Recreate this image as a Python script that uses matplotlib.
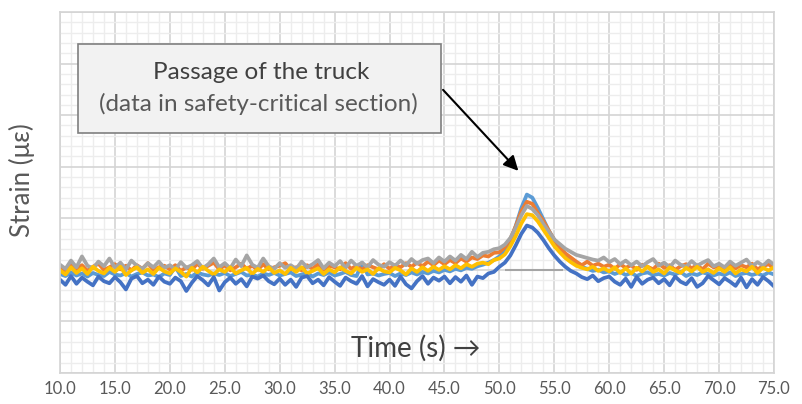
import numpy as np
import matplotlib
matplotlib.use('Agg')
import matplotlib.pyplot as plt
from matplotlib.ticker import MultipleLocator
from matplotlib.patches import Rectangle

plt.rcParams['font.family'] = ['Lato', 'DejaVu Sans']

# time axis (s), sampled every 0.5 s from 10.0 to 75.0
t = np.arange(10.0, 75.01, 0.5)

light_blue = [19.2, 18.8, 19.5, 18.9, 19.3, 18.7, 19.4, 19.0, 18.8, 19.6, 19.1, 18.9, 19.4, 18.7, 19.2, 19.5, 18.9, 19.1, 18.6, 19.3,
              19.0, 20.6, 18.8, 19.2, 18.7, 19.5, 19.1, 18.9, 19.3, 19.0, 19.4, 18.8, 19.2, 19.6, 18.9, 19.1, 18.7, 19.3, 19.0, 19.4,
              18.9, 19.2, 19.5, 18.8, 19.1, 19.4, 18.7, 19.3, 19.0, 19.5, 18.9, 19.2, 19.6, 19.0, 18.8, 21.4, 19.1, 19.3, 18.9, 19.2,
              19.4, 18.8, 19.3, 19.0, 19.5, 19.1, 19.6, 19.3, 19.8, 19.5, 20.0, 19.7, 20.2, 19.9, 20.4, 20.2, 20.7, 21.0, 21.4, 21.9,
              22.6, 23.6, 25.6, 28.6, 32.0, 34.6, 34.0, 32.0, 29.8, 27.6, 25.8, 24.2, 23.0, 22.0, 21.2, 20.6, 20.2, 19.8, 20.0, 19.5,
              19.7, 19.2, 19.6, 19.0, 19.4, 18.8, 19.3, 19.5, 19.0, 19.2, 18.9, 19.4, 19.1, 19.6, 18.8, 19.3, 19.0, 19.5, 19.2, 18.9,
              19.3, 19.0, 19.5, 18.8, 19.2, 19.4, 19.0, 19.3, 18.9, 19.5, 19.1]

orange = [20.5, 19.9, 21.0, 20.1, 20.9, 19.8, 20.6, 21.2, 20.0, 20.5, 21.1, 20.1, 20.8, 19.9, 20.9, 20.2, 21.3, 20.0, 20.5, 20.8,
          20.1, 20.9, 19.8, 20.5, 20.0, 21.2, 20.2, 20.8, 21.4, 20.1, 20.9, 19.9, 20.5, 21.2, 20.2, 20.8, 20.0, 21.1, 20.1, 20.5,
          20.8, 21.3, 20.1, 20.5, 19.9, 20.9, 20.2, 21.1, 20.0, 20.8, 20.5, 20.1, 21.3, 20.2, 20.8, 20.0, 20.9, 20.5, 20.1, 21.1,
          20.2, 20.9, 20.5, 21.3, 20.6, 21.4, 20.7, 21.6, 20.9, 21.8, 21.1, 21.9, 21.3, 22.2, 21.6, 22.4, 22.1, 22.8, 22.6, 23.3,
          23.4, 24.4, 26.0, 28.5, 31.4, 33.2, 32.8, 31.0, 29.5, 27.6, 25.8, 24.4, 23.2, 22.4, 21.6, 20.9, 21.6, 20.8, 21.2, 20.6,
          21.0, 20.2, 21.1, 20.4, 20.9, 20.0, 21.0, 20.6, 20.1, 21.2, 20.4, 20.9, 20.0, 20.7, 21.1, 20.3, 20.9, 20.1, 21.2, 20.5,
          20.7, 20.0, 21.0, 20.3, 20.9, 20.5, 21.2, 20.1, 20.7, 21.1, 20.3]

grey = [21.0, 20.2, 21.8, 20.5, 22.6, 20.8, 20.3, 21.6, 20.7, 22.2, 20.4, 21.4, 20.1, 21.8, 20.8, 20.2, 21.3, 20.5, 21.6, 20.4,
        20.9, 20.1, 21.5, 20.4, 20.9, 21.7, 20.3, 21.1, 22.2, 20.5, 21.3, 20.3, 22.0, 20.7, 22.8, 21.0, 20.4, 22.2, 20.7, 20.2,
        21.3, 20.4, 20.9, 20.2, 21.6, 20.5, 21.1, 21.9, 20.3, 21.4, 20.7, 21.7, 20.4, 21.8, 20.8, 21.4, 20.5, 21.9, 21.0, 20.6,
        21.5, 20.8, 21.8, 20.9, 22.1, 21.2, 21.9, 22.2, 21.3, 22.4, 21.6, 22.6, 21.8, 22.9, 22.1, 23.5, 22.5, 23.3, 23.5, 24.0,
        24.2, 24.9, 26.2, 28.2, 30.6, 32.4, 31.8, 30.6, 28.9, 27.4, 25.9, 25.0, 24.1, 23.5, 22.9, 22.6, 22.3, 22.0, 21.8, 22.4,
        21.5, 22.1, 21.1, 21.8, 20.9, 21.6, 20.7, 21.5, 22.1, 20.8, 21.4, 20.5, 21.8, 21.0, 20.6, 21.7, 20.8, 21.4, 21.9, 20.7,
        21.2, 20.5, 21.6, 20.8, 21.4, 22.0, 20.7, 21.5, 20.8, 21.8, 21.0]

yellow = [19.9, 19.1, 20.5, 19.4, 20.3, 19.2, 20.6, 19.8, 19.3, 20.4, 19.6, 20.6, 19.0, 19.9, 20.5, 19.4, 20.1, 19.2, 20.4, 19.7,
          19.3, 20.3, 19.6, 18.7, 20.4, 19.5, 20.6, 19.8, 19.1, 20.1, 19.6, 20.5, 19.3, 19.9, 20.4, 19.2, 20.2, 19.6, 20.5, 19.4,
          19.9, 19.2, 20.4, 19.6, 20.5, 19.3, 19.8, 20.3, 19.2, 20.1, 19.5, 20.5, 19.8, 19.3, 20.4, 19.6, 20.1, 19.2, 20.3, 19.7,
          19.5, 20.4, 19.9, 19.1, 20.3, 19.6, 20.5, 19.8, 20.6, 20.0, 20.7, 20.1, 20.9, 20.3, 21.1, 20.6, 21.2, 21.4, 21.1, 21.9,
          22.2, 23.0, 24.6, 26.6, 29.0, 30.8, 30.6, 29.4, 27.8, 26.2, 24.6, 23.4, 22.3, 21.5, 20.8, 20.4, 20.1, 20.6, 19.8, 20.3,
          19.7, 20.5, 19.4, 20.3, 19.3, 20.4, 19.7, 20.6, 19.6, 20.1, 19.3, 20.5, 19.9, 19.4, 20.4, 19.7, 20.6, 19.6, 20.1, 19.4,
          20.3, 19.6, 20.5, 19.3, 20.1, 19.7, 20.6, 19.4, 20.4, 19.9, 20.5]

blue = [18.1, 17.1, 18.8, 17.3, 18.5, 17.7, 17.0, 18.7, 17.8, 17.4, 18.6, 17.6, 16.2, 18.3, 18.8, 17.4, 18.1, 17.1, 18.7, 17.7,
        17.3, 18.5, 17.8, 15.9, 17.5, 18.8, 18.0, 17.0, 18.6, 16.0, 17.6, 18.5, 17.3, 18.2, 16.8, 18.7, 18.3, 18.9, 17.8, 17.2,
        18.3, 17.1, 18.1, 16.7, 18.5, 18.8, 17.4, 18.1, 17.0, 18.6, 17.7, 16.9, 18.5, 17.8, 17.3, 18.8, 16.8, 18.2, 17.6, 17.1,
        18.1, 16.9, 18.7, 17.2, 16.4, 17.8, 18.8, 17.3, 18.5, 17.9, 18.7, 17.4, 18.6, 17.7, 18.9, 17.1, 18.7, 18.4, 19.3, 19.6,
        20.6, 21.4, 22.8, 24.8, 27.0, 28.6, 28.2, 27.2, 25.8, 24.2, 22.8, 21.6, 20.6, 19.8, 19.3, 18.6, 18.2, 18.9, 17.8, 18.4,
        18.7, 17.7, 17.1, 18.3, 16.7, 18.6, 17.3, 18.1, 18.5, 17.4, 18.2, 17.0, 18.7, 17.7, 17.2, 18.4, 16.7, 17.4, 18.8, 18.0,
        17.2, 18.4, 17.7, 16.9, 18.5, 16.6, 18.2, 17.1, 18.6, 17.8, 16.8]

series = [(light_blue, '#5B9BD5'), (orange, '#ED7D31'), (grey, '#A5A5A5'),
          (yellow, '#FFC000'), (blue, '#4472C4')]

fig = plt.figure(figsize=(8.02, 4.04), dpi=100)
ax = fig.add_axes([60/802, 31/404, 714/802, 361/404])

ax.set_xlim(10, 75)
ax.set_ylim(0, 70)
ax.xaxis.set_major_locator(MultipleLocator(5))
ax.xaxis.set_minor_locator(MultipleLocator(1))
ax.yaxis.set_major_locator(MultipleLocator(10))
ax.yaxis.set_minor_locator(MultipleLocator(2))
ax.grid(which='major', color='#D4D4D4', lw=1.2, zorder=0)
ax.grid(which='minor', color='#EDEDED', lw=1.0, zorder=0)
ax.set_axisbelow(True)
for s in ax.spines.values():
    s.set_color('#D4D4D4')
    s.set_linewidth(1.2)
ax.tick_params(which='both', length=0)
ax.tick_params(axis='x', labelsize=12, labelcolor='#595959', pad=6)
ax.set_yticklabels([])
ax.set_xticklabels(['%.1f' % v for v in ax.get_xticks()])

ax.hlines(20, 50.5, 55.8, color='#A5A5A5', lw=1.5, zorder=1)

for vals, col in series:
    ax.plot(t, vals, color=col, lw=2.7, zorder=2)

# callout box with arrow
ax.add_patch(Rectangle((11.64, 46.5), 33.06, 17.3, facecolor='#F2F2F2',
                       edgecolor='#7F7F7F', lw=1.2, zorder=3))
ax.text(28.3, 58.2, 'Passage of the truck', ha='center', va='center',
        fontsize=17.5, color='#404040', zorder=4)
ax.text(28.1, 52.2, '(data in safety-critical section)', ha='center', va='center',
        fontsize=17.5, color='#595959', zorder=4)
ax.annotate('', xy=(51.9, 38.8), xytext=(44.7, 55.3),
            arrowprops=dict(arrowstyle='-|>', color='black', lw=1.5,
                            mutation_scale=22), zorder=4)

ax.text(42.4, 4.85, 'Time (s) \u2192', ha='center', va='center',
        fontsize=20, color='#404040')
fig.text(22/802, 1 - 180/404, 'Strain (\u03bc\u03b5)', rotation=90,
         ha='center', va='center', fontsize=18.5, color='#595959')

fig.savefig('out.png', dpi=100)
